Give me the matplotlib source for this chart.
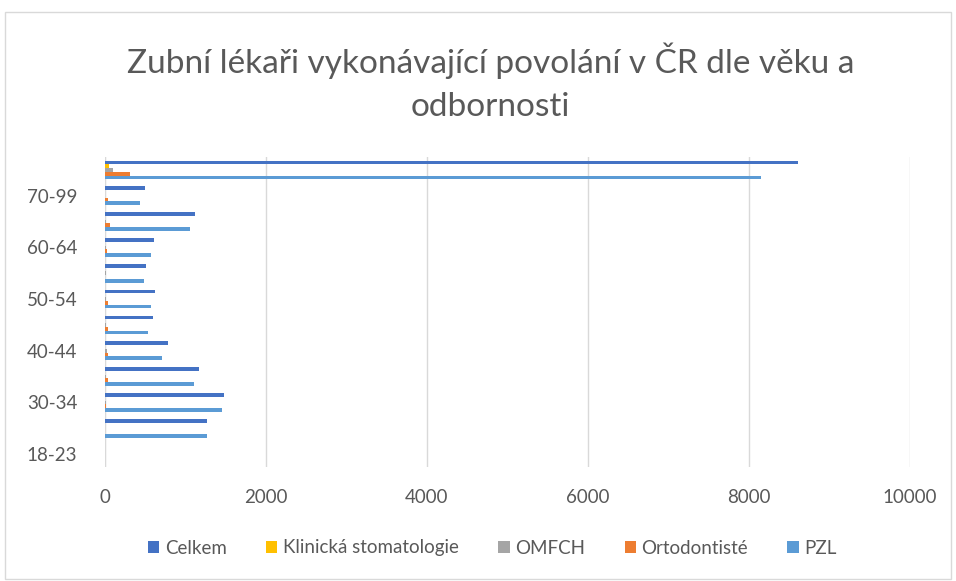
import matplotlib.pyplot as plt
import numpy as np

plt.rcParams['font.family'] = ['Lato', 'DejaVu Sans']

categories = ["18-23", "24-29", "30-34", "35-39", "40-44", "45-49",
              "50-54", "55-59", "60-64", "65-69", "70-99", "Celkem"]
series = ["Celkem", "Klinická stomatologie", "OMFCH", "Ortodontisté", "PZL"]
celkem = [3, 1267, 1478, 1168, 783, 596, 621, 510, 609, 1118, 497, 8609]
klinicka = [0, 2, 5, 6, 6, 5, 5, 4, 4, 5, 3, 50]
omfch = [0, 3, 8, 12, 20, 12, 12, 8, 8, 10, 6, 100]
ortodontiste = [0, 2, 10, 40, 40, 35, 35, 5, 20, 60, 35, 310]
pzl = [3, 1262, 1453, 1106, 708, 534, 571, 487, 571, 1056, 435, 8149]
colors = ["#4472C4", "#FFC000", "#A5A5A5", "#ED7D31", "#5B9BD5"]

fig = plt.figure(figsize=(9.56, 5.81), dpi=100)
ax = fig.add_axes([105 / 956, (581 - 467) / 581, 805 / 956, 310 / 581])

# chart border
fig.patches.append(plt.Rectangle((5 / 956, 2 / 581), 946 / 956, 567 / 581,
                                 transform=fig.transFigure, fill=False,
                                 edgecolor="#d9d9d9", linewidth=1))

y = np.arange(len(categories))
h = 0.145
data = [celkem, klinicka, omfch, ortodontiste, pzl]
for i, (name, vals, c) in enumerate(zip(series, data, colors)):
    offset = (2 - i) * h
    ax.barh(y + offset, vals, height=h, color=c, label=name, zorder=3)

ax.set_xlim(0, 10000)
ax.set_ylim(-0.5, len(categories) - 0.5)
ax.set_xticks(np.arange(0, 10001, 2000))
ax.set_yticks(y[::2])
ax.set_yticklabels(categories[::2])
ax.grid(axis="x", color="#d9d9d9", linewidth=1, zorder=0)
ax.axvline(0, color="#d9d9d9", linewidth=1.5, zorder=2)
for s in ax.spines.values():
    s.set_visible(False)
ax.tick_params(length=0, labelsize=13.5, colors="#595959")
ax.tick_params(axis="x", pad=16)
ax.tick_params(axis="y", pad=20)

fig.text(0.513, 1 - 82 / 581, "Zubní lékaři vykonávající povolání v ČR dle věku a\nodbornosti",
         ha="center", va="center", fontsize=24, color="#595959", linespacing=1.55)

ax.legend(loc="center", bbox_to_anchor=(0.515, (581 - 548) / 581), bbox_transform=fig.transFigure,
          ncol=5, frameon=False, fontsize=13.5, handlelength=0.6, handleheight=0.6,
          handletextpad=0.3, columnspacing=2.1, labelcolor="#595959")

fig.savefig("out.png", dpi=100)
